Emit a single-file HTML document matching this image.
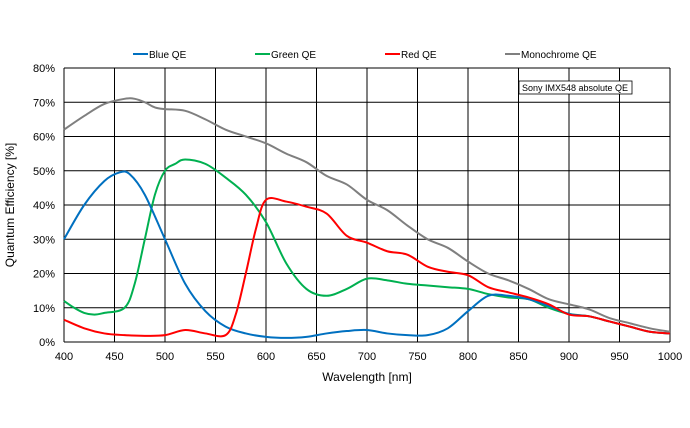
<!DOCTYPE html><html><head><style>body{margin:0;background:#fff}svg{display:block;font-family:"Liberation Sans",sans-serif}</style></head><body>
<svg id="s" width="690" height="428" xmlns="http://www.w3.org/2000/svg"></svg>
<script>
const s=document.getElementById('s');
const X=w=>64+(w-400)*606/600, Y=v=>342-v*274/80;
let h='';
for(let w=400;w<=1000;w+=50){h+=`<line x1="${X(w)}" y1="68" x2="${X(w)}" y2="342" stroke="#000" stroke-width="1"/>`;
h+=`<text x="${X(w)}" y="360" font-size="11" text-anchor="middle">${w}</text>`;}
for(let v=0;v<=80;v+=10){h+=`<line x1="64" y1="${Y(v)}" x2="670" y2="${Y(v)}" stroke="#000" stroke-width="1"/>`;
h+=`<text x="55" y="${Y(v)+4}" font-size="11" text-anchor="end">${v}%</text>`;}
h+=`<text x="367" y="381" font-size="12" text-anchor="middle">Wavelength [nm]</text>`;
h+=`<text transform="translate(14,205) rotate(-90)" font-size="12" text-anchor="middle">Quantum Efficiency [%]</text>`;
const D={
'#7f7f7f':[[400,62],[420,66],[440,69.5],[460,71],[470,71],[480,70],[490,68.5],[500,68],[520,67.5],[540,65],[560,62],[580,60],[600,58],[620,55],[640,52.5],[660,48.5],[680,46],[700,41.5],[720,38.5],[740,34],[760,30],[780,27.5],[800,23.5],[820,20],[840,18],[860,15.5],[880,12.5],[900,11],[920,9.5],[940,7],[960,5.5],[980,4],[1000,3]],
'#0070c0':[[400,30],[420,40],[440,47],[455,49.5],[465,49],[480,43],[500,30],[520,17],[540,9],[560,4.5],[580,2.5],[600,1.5],[620,1.2],[640,1.5],[660,2.5],[680,3.2],[700,3.5],[720,2.5],[740,2],[760,2],[780,4],[800,9],[820,13.5],[840,13.5],[860,12.5],[880,10.5],[900,8.2],[920,7.5],[940,6],[960,4.5],[980,3],[1000,2.5]],
'#00b050':[[400,12],[410,10],[420,8.5],[430,8],[440,8.5],[460,10],[470,17],[480,30],[490,43],[500,50],[510,52],[520,53.3],[540,52],[560,48],[580,43],[600,35],[620,23],[640,15.5],[660,13.5],[680,15.5],[700,18.5],[720,18],[740,17],[760,16.5],[780,16],[800,15.5],[820,14],[840,13],[860,12.5],[880,10],[900,8.2],[920,7.5],[940,6],[960,4.5],[980,3],[1000,2.5]],
'#ff0000':[[400,6.5],[420,4],[440,2.5],[460,2],[480,1.8],[500,2],[520,3.5],[540,2.5],[560,2],[570,8],[580,20],[590,33],[600,41.5],[620,41],[640,39.5],[660,37.5],[680,31],[700,29],[720,26.5],[740,25.5],[760,22],[780,20.5],[800,19.5],[820,16],[840,14.5],[860,13],[880,11],[900,8],[920,7.5],[940,6],[960,4.5],[980,3],[1000,2.5]]};
function path(p){p=p.map(a=>[X(a[0]),Y(a[1])]);let d=`M${p[0]}`;for(let i=0;i<p.length-1;i++){const a=p[i-1]||p[i],b=p[i],c=p[i+1],e=p[i+2]||c;
d+=` C${b[0]+(c[0]-a[0])/6},${b[1]+(c[1]-a[1])/6} ${c[0]-(e[0]-b[0])/6},${c[1]-(e[1]-b[1])/6} ${c[0]},${c[1]}`;}return d;}
for(const c of ['#00b050','#0070c0','#ff0000','#7f7f7f'])h+=`<path d="${path(D[c])}" fill="none" stroke="${c}" stroke-width="2"/>`;
const L=[['#0070c0',133,'Blue QE'],['#00b050',255,'Green QE'],['#ff0000',385,'Red QE'],['#7f7f7f',505,'Monochrome QE']];
for(const [c,x,t] of L){h+=`<line x1="${x}" y1="54" x2="${x+15}" y2="54" stroke="${c}" stroke-width="2"/><text x="${x+16}" y="58" font-size="10">${t}</text>`;}
h+=`<rect x="519" y="81" width="113" height="13" fill="#fff" stroke="#000" stroke-width="0.8"/><text x="522" y="91" font-size="9">Sony IMX548 absolute QE</text>`;
s.innerHTML=h;
</script></body></html>
